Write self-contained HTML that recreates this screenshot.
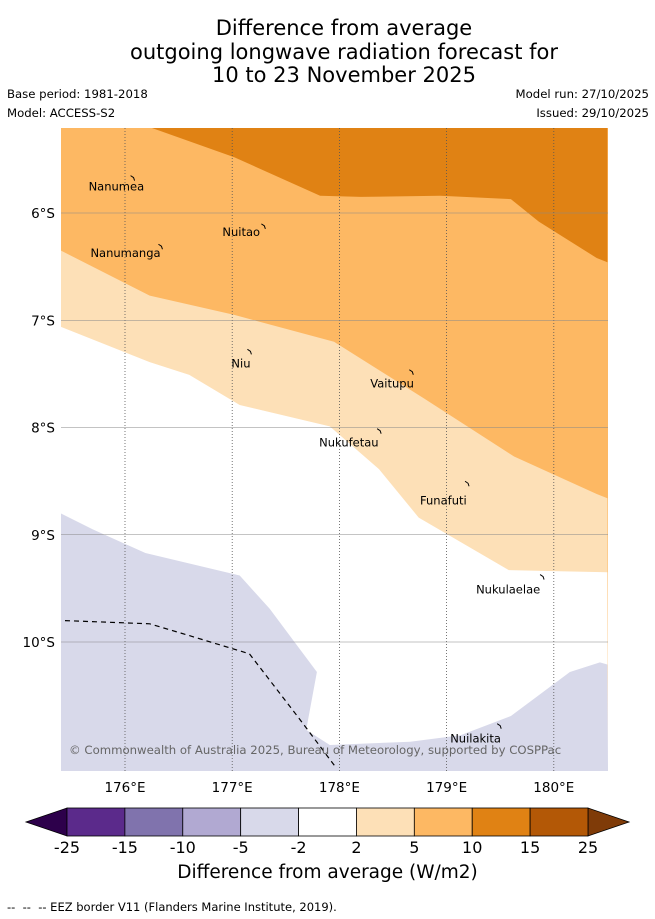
<!DOCTYPE html>
<html><head><meta charset="utf-8"><style>
body{margin:0;background:#fff;font-family:"DejaVu Sans",sans-serif;}
#wrap{position:relative;width:655px;height:919px;overflow:hidden;}
.t{position:absolute;white-space:nowrap;color:#000;}
</style></head><body>
<div id="wrap">
<div class="t" style="left:0;width:688px;top:17px;text-align:center;font-size:21px;line-height:23.5px;">Difference from average<br>outgoing longwave radiation forecast for<br>10 to 23 November 2025</div>
<div class="t" style="left:7px;top:87px;font-size:11.7px;">Base period: 1981-2018</div>
<div class="t" style="left:7px;top:106px;font-size:11.7px;">Model: ACCESS-S2</div>
<div class="t" style="right:6px;top:87px;font-size:11.7px;">Model run: 27/10/2025</div>
<div class="t" style="right:6px;top:106px;font-size:11.7px;">Issued: 29/10/2025</div>
<svg id="map" width="655" height="919" style="position:absolute;left:0;top:0"></svg>
<div class="t" style="left:0;width:655px;text-align:center;top:862px;font-size:18.5px;">Difference from average (W/m2)</div>
<div class="t" style="left:7px;top:900px;font-size:11.5px;">-- &nbsp;-- &nbsp;-- EEZ border V11 (Flanders Marine Institute, 2019).</div>
</div>
<script>
const lonTicks=[176,177,178,179,180];
const latTicks=[6,7,8,9,10];
const cbLevels=["-25","-15","-10","-5","-2","2","5","10","15","25"];
const cbColors=["#5b2a8b","#8073ad","#b1a9d2","#d8d9ea","#ffffff","#fde0b7","#fdb863","#e08214","#b35806"];
// contour boundaries in [lon, latS]
const darkOrange=[[176.23,5.2],[177.02,5.48],[177.82,5.84],[178.2,5.85],[178.94,5.84],[179.6,5.87],[179.86,6.08],[180.4,6.42],[180.5,6.46],[180.5,5.2]];
const orangeLower=[[175.4,6.35],[176.23,6.77],[177.02,6.95],[177.95,7.2],[178.79,7.73],[179.63,8.27],[180.4,8.62],[180.5,8.66]];
const paleLower=[[175.4,7.06],[176.23,7.39],[176.6,7.51],[177.07,7.79],[177.91,7.99],[178.37,8.39],[178.74,8.84],[179.58,9.33],[180.05,9.34],[180.5,9.35]];
const lavUpper=[[175.4,8.8],[175.7,8.95],[176.19,9.17],[177.07,9.38],[177.35,9.69],[177.79,10.28],[177.69,10.82],[177.91,10.96],[178.66,10.93],[179.13,10.87],[179.6,10.69],[180.15,10.28],[180.43,10.19],[180.5,10.21]];
const eez=[[175.44,9.8],[176.23,9.83],[176.6,9.94],[177.16,10.11],[177.63,10.72],[177.96,11.16]];
const islands=[["Nanumea",176.08,5.67,-45,13],["Nuitao",177.3,6.12,-42,10],["Nanumanga",176.34,6.31,-71,11],["Niu",177.17,7.29,-19,16],["Vaitupu",178.68,7.48,-42,16],["Nukufetau",178.38,8.03,-61,16],["Funafuti",179.2,8.52,-48,21],["Nukulaelae",179.9,9.39,-67,17],["Nuilakita",179.5,10.78,-50,17]];
const X0=61,X1=608,Y0=128,Y1=771;
function x(lon){return 125+(lon-176)*107.2;}
function y(lat){return 213+(lat-6)*107.25;}
const svg=document.getElementById('map');const NS='http://www.w3.org/2000/svg';
function mk(t,a){const e=document.createElementNS(NS,t);for(const k in a)e.setAttribute(k,a[k]);svg.appendChild(e);return e;}
function pts(arr){return arr.map(p=>x(p[0]).toFixed(1)+','+y(p[1]).toFixed(1)).join(' ');}
const defs=mk('defs',{});
const cp=document.createElementNS(NS,'clipPath');cp.setAttribute('id','mc');defs.appendChild(cp);
const cr=document.createElementNS(NS,'rect');cr.setAttribute('x',X0);cr.setAttribute('y',Y0);cr.setAttribute('width',X1-X0);cr.setAttribute('height',Y1-Y0);cp.appendChild(cr);
let e;
e=mk('rect',{x:X0,y:Y0,width:X1-X0,height:Y1-Y0,fill:'#fdb863'});


e=mk('polygon',{points:pts(orangeLower)+` ${X1},${Y1} ${X0},${Y1}`,fill:'#fde0b7','clip-path':'url(#mc)'});


e=mk('polygon',{points:pts(paleLower)+` ${X1},${Y1} ${X0},${Y1}`,fill:'#ffffff','clip-path':'url(#mc)'});


e=mk('polygon',{points:pts(lavUpper)+` ${X1},${Y1} ${X0},${Y1}`,fill:'#d8d9ea','clip-path':'url(#mc)'});


e=mk('polygon',{points:pts(darkOrange),fill:'#e08214','clip-path':'url(#mc)'});


lonTicks.forEach(l=>{
 e=mk('line',{x1:x(l),x2:x(l),y1:Y0,y2:Y1,stroke:'#555','stroke-width':0.8,'stroke-dasharray':'1,2'});
 
 
 e=mk('text',{x:x(l),y:792,'font-size':13.5,'text-anchor':'middle','font-family':'DejaVu Sans'});e.textContent=l+'°E';
 
 
});
latTicks.forEach(l=>{
 e=mk('line',{x1:X0,x2:X1,y1:y(l),y2:y(l),stroke:'#888','stroke-width':0.6});
 
 
 e=mk('text',{x:55,y:y(l)+5,'font-size':13.5,'text-anchor':'end','font-family':'DejaVu Sans'});e.textContent=l+'°S';
 
 
});
e=mk('polyline',{points:pts(eez),fill:'none',stroke:'#000','stroke-width':1.2,'stroke-dasharray':'5,4'});


islands.forEach(s=>{
 const cx=x(s[1]),cy=y(s[2]);
 e=mk('path',{d:`M${cx-3},${cy-2} l3,2 l1,3`,fill:'none',stroke:'#000','stroke-width':1});
 
 
 e=mk('text',{x:cx+s[3],y:cy+s[4],'font-size':11.5,'font-family':'DejaVu Sans'});e.textContent=s[0];
 
 
});
e=mk('text',{x:69,y:754,'font-size':11.7,fill:'#666','font-family':'DejaVu Sans'});e.textContent='© Commonwealth of Australia 2025, Bureau of Meteorology, supported by COSPPac';


const cbL=67,cbR=588,cbT=808,cbB=836,w=(cbR-cbL)/cbColors.length;
e=mk('polygon',{points:`${cbL},${cbT} ${cbL},${cbB} 26,${(cbT+cbB)/2}`,fill:'#2d004b',stroke:'#000','stroke-width':0.8});


e=mk('polygon',{points:`${cbR},${cbT} ${cbR},${cbB} 629,${(cbT+cbB)/2}`,fill:'#7f3b08',stroke:'#000','stroke-width':0.8});


cbColors.forEach((c,i)=>{
 e=mk('rect',{x:cbL+i*w,y:cbT,width:w,height:cbB-cbT,fill:c,stroke:'#000','stroke-width':0.8});
 
 
});
cbLevels.forEach((v,i)=>{
 e=mk('text',{x:cbL+i*w,y:853,'font-size':16,'text-anchor':'middle','font-family':'DejaVu Sans'});e.textContent=v;
 
 
});
</script>
</body></html>
